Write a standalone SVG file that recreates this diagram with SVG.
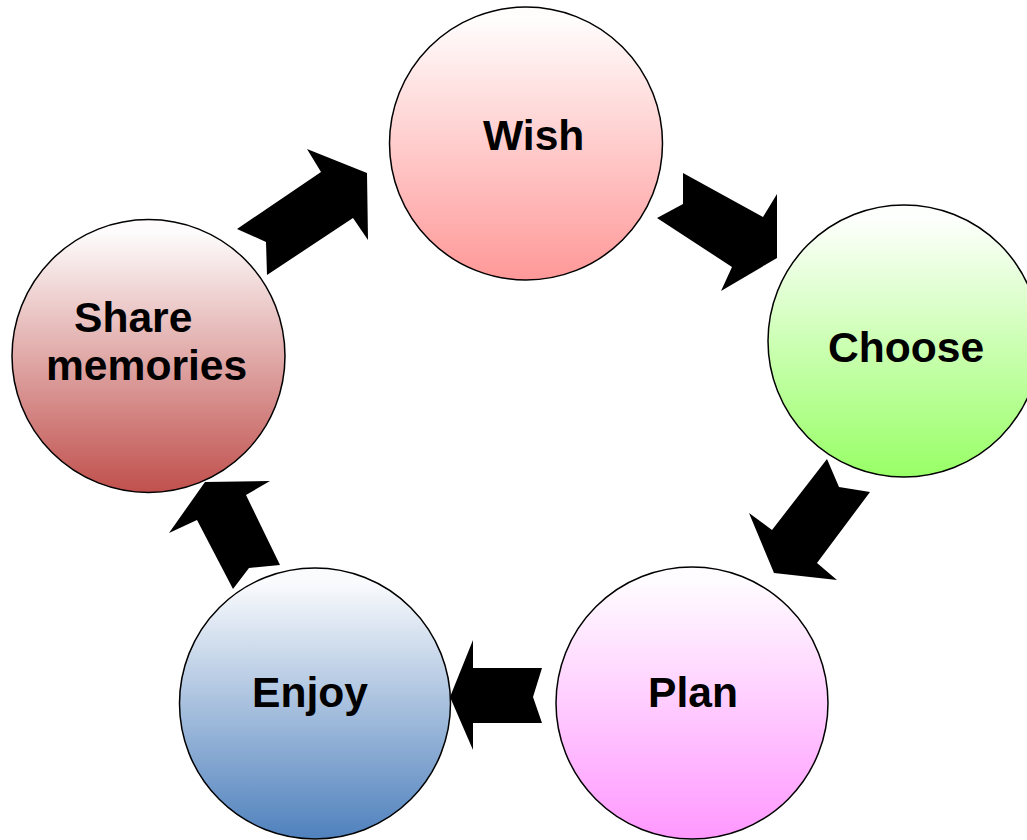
<svg xmlns="http://www.w3.org/2000/svg" width="1027" height="840" viewBox="0 0 1027 840">
<style>
.node circle{stroke:#000;stroke-width:1.5}
.node text{font-family:"Liberation Sans",Arial,sans-serif;font-weight:bold;font-size:42.6px;fill:#000}
.arrow{fill:#000;stroke:none}
</style>
<defs>
<linearGradient id="gWish" x1="0" y1="0" x2="0" y2="1"><stop offset="0.05" stop-color="#fffcfc"/><stop offset="1" stop-color="#ff9898"/></linearGradient>
<linearGradient id="gChoose" x1="0" y1="0" x2="0" y2="1"><stop offset="0.05" stop-color="#fdfffc"/><stop offset="1" stop-color="#98ff66"/></linearGradient>
<linearGradient id="gPlan" x1="0" y1="0" x2="0" y2="1"><stop offset="0.05" stop-color="#fffcff"/><stop offset="1" stop-color="#ff98ff"/></linearGradient>
<linearGradient id="gEnjoy" x1="0" y1="0" x2="0" y2="1"><stop offset="0.05" stop-color="#fafbfd"/><stop offset="1" stop-color="#4f81bd"/></linearGradient>
<linearGradient id="gShare" x1="0" y1="0" x2="0" y2="1"><stop offset="0.05" stop-color="#fdfbfb"/><stop offset="1" stop-color="#c0504d"/></linearGradient>
</defs>
<g id="connectors">
<polygon class="arrow" points="237,229 321,172 307,149 367,173 368,240 353,218 267,275 266,242"/>
<polygon class="arrow" points="683,173 763,217 777,194 777,258 721,291 732,267 657,218 683,204"/>
<polygon class="arrow" points="827,459 839,487 870,492 817,563 837,580 774,573 749,513 772,530"/>
<polygon class="arrow" points="542,668 533,697 542,723 473,723 473,750 450,697 473,640 473,668"/>
<polygon class="arrow" points="280,565 249,568 233,589 197,520 169,533 205,482 270,481 246,495"/>
</g>
<g id="wish" class="node"><circle cx="526" cy="143.5" r="136.5" fill="url(#gWish)"/><text x="483" y="150">Wish</text></g>
<g id="choose" class="node"><circle cx="904" cy="341" r="136" fill="url(#gChoose)"/><text x="828" y="362">Choose</text></g>
<g id="plan" class="node"><circle cx="692" cy="703" r="136" fill="url(#gPlan)"/><text x="648" y="707">Plan</text></g>
<g id="enjoy" class="node"><circle cx="315" cy="703.5" r="135.5" fill="url(#gEnjoy)"/><text x="252" y="707">Enjoy</text></g>
<g id="share" class="node"><circle cx="148.5" cy="356" r="136.5" fill="url(#gShare)"/><text x="74" y="332">Share</text><text x="46" y="380">memories</text></g>
</svg>
